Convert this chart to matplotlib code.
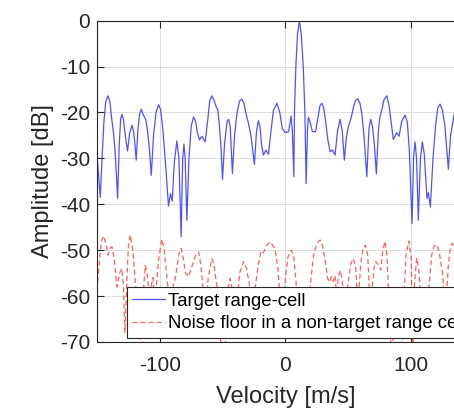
import matplotlib
matplotlib.use("Agg")
import matplotlib.pyplot as plt

plt.rcParams['font.family'] = ['Liberation Sans', 'DejaVu Sans']
plt.rcParams['axes.unicode_minus'] = False

# target range-cell spectrum (velocity m/s, amplitude dB)
v_target = [-150, -149, -147.4, -146, -144.5, -143, -141.3, -139.8, -138.5, -136.8,
            -135.5, -133.6, -132.3, -131.2, -130.2, -129, -127.5, -125.7, -124, -122.2,
            -121, -119.8, -118.8, -117.5, -116.2, -114.8, -113.3, -111.1, -109.8, -108.3,
            -106.8, -105, -103, -101, -99.3, -97.5, -95.5, -93.1, -91.5, -90.1,
            -88.5, -86.4, -84.8, -83, -81.8, -80.8, -79.8, -78.5, -76.8, -75,
            -73.2, -71.5, -70, -68.4, -66.5, -63.9, -62, -60.3, -58.6, -57,
            -55.1, -53.8, -52.5, -51.2, -50.1, -48.5, -46.5, -45.3, -44, -42.2,
            -40.5, -38.5, -36.5, -34.7, -33, -31.2, -29.4, -27.5, -24.7, -23,
            -21.5, -20.3, -19, -17.5, -15.6, -13.5, -11.5, -9.5, -6.8, -4.5,
            -2.5, -0.2, 2.5, 4.5, 5.5, 6.7, 7.2, 8.3, 9.6, 11.1,
            12.6, 14.2, 15.5, 16.5, 17.5, 18.3, 19.5, 21.5, 24, 26,
            27.5, 29, 30.5, 32, 33.8, 35.6, 37.4, 39.5, 41.5, 43.5,
            45.2, 46.9, 48.5, 50.1, 52, 54.5, 56, 57.6, 59.3, 60.8,
            62.5, 64.8, 66.5, 67.9, 69.3, 70.8, 72.4, 74, 75.2, 76.7,
            78.5, 80.7, 82.5, 84.3, 85.9, 88.6, 90.5, 92.5, 95.2, 97,
            98.6, 100.8, 102, 103.2, 104.4, 105.8, 107.5, 109, 110.5, 112.7,
            113.8, 115.4, 117.5, 119.5, 121.3, 123.1, 125, 127, 129.7, 131.5,
            134.2, 136.5, 139, 150]
a_target = [-29.5, -33, -38.5, -30, -22, -17.6, -16.4, -17.5, -21, -24.6,
            -29, -38.7, -27, -21.5, -20.4, -21.5, -25, -28.4, -24.5, -22.8,
            -24, -27, -30.4, -24, -20.5, -19.3, -20.4, -21.7, -24, -28,
            -33.7, -25, -20, -18.3, -19.5, -24, -31, -40.4, -37.7, -39.3,
            -31, -26.2, -30, -47.1, -30, -26.9, -30, -43.5, -30, -23,
            -21.0, -22, -24.5, -26.0, -25.2, -26.4, -22, -17.5, -16.4, -17.2,
            -18.8, -19.5, -23, -28, -34.6, -27, -22, -21.5, -23, -33.3,
            -25, -20, -17.5, -17.1, -18, -20.5, -22.4, -25, -31.3, -24,
            -21.8, -23, -27, -29.3, -28.2, -29.1, -24, -19.5, -18.0, -20,
            -23.5, -24.4, -24.2, -20.8, -24, -34, -20, -10, -3, 0,
            -3, -10, -20, -35.5, -24, -21, -22, -24.2, -24.2, -21,
            -18.5, -18, -19, -22, -26, -28.6, -28.2, -29.3, -24, -21.5,
            -24, -30.4, -25.5, -23.1, -21.5, -18.5, -17.3, -17.0, -18, -20.2,
            -25, -34, -23.5, -21.5, -23, -27, -33.4, -24, -21, -19.5,
            -17.2, -16.4, -18.5, -22.5, -25.9, -24.4, -25.2, -22, -20.6, -22,
            -28, -44.2, -30, -26.4, -30, -43.5, -30, -26.4, -29, -38.7,
            -37.5, -40.6, -30, -23, -19, -18.2, -19.5, -23, -32.4, -25,
            -20.6, -19.5, -21, -25]

# noise floor in a non-target range cell
v_noise = [-150, -148, -146.5, -144.8, -143, -141.3, -139.5, -138.1, -136.5, -134.1,
           -132, -130.2, -128.9, -127.8, -126, -125, -123.5, -121.5, -119.5, -117,
           -114.2, -112.8, -111.6, -110, -108.3, -107, -105.5, -104, -101, -98.4,
           -96.5, -95, -93.6, -92, -89.5, -87.7, -86, -84.5, -83, -81.5,
           -79.5, -77.2, -75, -72, -70.5, -69.2, -68, -66, -63.9, -61.5,
           -58.6, -57, -55.5, -53.5, -50.6, -49.5, -48.5, -46, -44, -42,
           -39.5, -36.5, -33.4, -31, -29, -26.5, -24, -21.5, -19.6, -18,
           -15, -12.4, -10, -8.2, -6, -4, -2.5, 0, 2, 4.5,
           6.5, 8.5, 10.3, 12.5, 15, 17.5, 20, 22.5, 25, 27.6,
           29.5, 31.5, 33.5, 35, 36.4, 38, 39.5, 40.8, 42, 43.5,
           45, 47, 49.5, 52, 54.1, 56, 57.6, 60, 61.5, 63.4,
           65.5, 67.4, 69.5, 71, 71.9, 73.5, 75.9, 77.5, 79.3, 80.8,
           82.5, 84.6, 87, 89.5, 91.5, 93.4, 94.4, 96, 98.4, 100.2,
           101.4, 102.6, 104.5, 106, 107.7, 110, 112.3, 114.3, 116.5, 118.5,
           120.5, 122.5, 125, 127.6, 129.5, 131.2, 132.9, 134.5, 137, 150]
a_noise = [-58.7, -52, -48, -46.9, -48.5, -51.1, -49.5, -49.3, -51.5, -58.0,
           -55, -54.0, -58.3, -68, -55, -49, -46.7, -50, -57, -65,
           -75, -58, -53.3, -55.5, -60, -58, -56, -62, -52, -47.6,
           -50, -54, -58, -62, -58, -56.2, -53, -50.5, -49.6, -51.5,
           -55, -55.8, -54, -51.5, -50.7, -50.4, -52, -57, -66, -56,
           -51.8, -53, -56, -60, -75, -72, -75, -59, -56.2, -59,
           -65, -55, -52.5, -54, -57, -62, -58, -53, -50.4, -50.8,
           -49, -48.2, -49, -49.8, -54, -62, -66, -56, -51.5, -50,
           -51, -57, -66, -62, -60, -64, -57, -51, -48.5, -47.8,
           -49, -52, -56, -57, -55.8, -56.8, -55.5, -60, -56, -54.4,
           -56, -62, -58, -53, -51.8, -54, -62, -53, -50, -48.9,
           -51, -62, -57, -53, -52.5, -53, -54.3, -50, -48.1, -51,
           -62, -75, -64, -62, -66, -75, -60, -51, -48.0, -52,
           -75, -58, -51.7, -54, -60, -66, -62, -58, -51, -49,
           -48.8, -50.5, -55, -64, -54, -49.5, -48.5, -49.5, -55, -60]

fig = plt.figure(figsize=(4.54, 4.12), dpi=100)
# axes run past the right edge of the figure, like the cropped original
ax = fig.add_axes([0.2137, 0.170, 0.830, 0.780])

ax.plot(v_target, a_target, color='#3333ff', lw=0.9, alpha=0.85, label='Target range-cell')
ax.plot(v_noise, a_noise, color='#ff4444', lw=0.9, ls=(0, (4, 2.5)), alpha=0.85,
        label='Noise floor in a non-target range cell')

ax.set_xlim(-150, 150)
ax.set_ylim(-70, 0)
ax.set_xticks([-100, 0, 100])
ax.set_yticks(list(range(-70, 1, 10)))
ax.grid(True, color='#dedede', lw=0.8)
ax.set_axisbelow(True)

for s in ax.spines.values():
    s.set_color('#262626')
    s.set_linewidth(0.8)
ax.tick_params(direction='in', length=5, width=0.8, color='#262626',
               labelsize=15, labelcolor='#262626', top=True, right=True)
ax.tick_params(axis='x', pad=10)
ax.tick_params(axis='y', pad=5)

ax.set_xlabel('Velocity [m/s]', fontsize=17, color='#262626', labelpad=8)
ax.set_ylabel('Amplitude [dB]', fontsize=17, color='#262626', labelpad=4)

leg = ax.legend(loc='lower left', bbox_to_anchor=(0.0788, 0.0124), borderaxespad=0,
                fontsize=13.3, fancybox=False, framealpha=1, edgecolor='#262626',
                handlelength=1.75, handletextpad=0.2, borderpad=0.3, labelspacing=0.3)
leg.get_frame().set_linewidth(0.8)

fig.savefig('out.png', dpi=100)
